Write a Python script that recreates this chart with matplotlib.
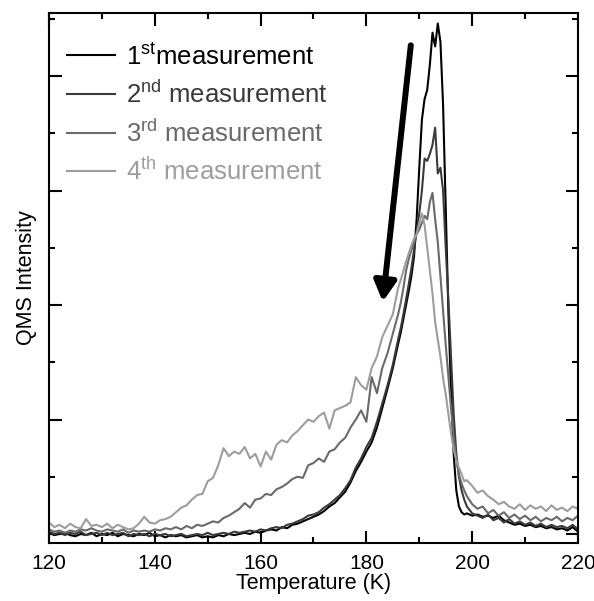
import numpy as np
import matplotlib
matplotlib.use("Agg")
from matplotlib import pyplot as plt
from matplotlib.ticker import MultipleLocator

plt.rcParams['font.family'] = ['Liberation Sans', 'DejaVu Sans']
plt.rcParams['mathtext.fontset'] = 'custom'
plt.rcParams['mathtext.rm'] = 'Liberation Sans'

# temperature grid (K): 1 K steps, 0.5 K steps around the peak
temps = np.concatenate([np.arange(120, 186, 1.0),
                        np.arange(186, 199.5, 0.5),
                        np.arange(200, 221, 1.0)])

# QMS intensity (arb. units)
meas_1 = [0.01, -0.01, 0.00, 0.01, -0.01, -0.02, 0.00, -0.01, 0.01, -0.02,
          0.00, -0.01, 0.01, -0.02, 0.00, -0.01, -0.02, 0.00, -0.01, 0.01,
          -0.02, -0.01, -0.03, -0.01, -0.02, -0.01, -0.03, -0.02, -0.01, -0.03,
          -0.02, -0.03, -0.01, -0.02, 0.00, -0.01, 0.00, 0.01, 0.00, 0.02,
          0.01, 0.03, 0.04, 0.03, 0.06, 0.05, 0.08, 0.09, 0.11, 0.13,
          0.15, 0.17, 0.20, 0.24, 0.27, 0.32, 0.37, 0.45, 0.55, 0.63,
          0.72, 0.80, 0.93, 1.10, 1.27, 1.45,
          1.66, 1.76, 1.88, 2.00, 2.12, 2.25, 2.42, 2.75, 3.20, 3.62,
          3.80, 3.88, 4.10, 4.38, 4.26, 4.46, 4.30, 3.75, 2.85, 1.95,
          1.25, 0.70, 0.38, 0.24, 0.19, 0.17, 0.18,
          0.16, 0.17, 0.15, 0.16, 0.14, 0.16, 0.12, 0.10, 0.08, 0.09,
          0.07, 0.08, 0.06, 0.07, 0.05, 0.06, 0.04, 0.05, 0.03, 0.06, 0.02]

meas_2 = [0.02, 0.00, 0.01, -0.01, 0.01, 0.00, 0.02, -0.01, 0.00, 0.01,
          -0.01, 0.01, -0.01, 0.00, 0.01, -0.02, 0.00, -0.01, 0.00, -0.02,
          0.00, -0.01, 0.00, -0.02, -0.01, 0.00, -0.02, -0.01, 0.00, -0.01,
          0.01, -0.01, 0.00, 0.01, 0.00, 0.02, 0.01, 0.02, 0.03, 0.02,
          0.04, 0.03, 0.05, 0.06, 0.05, 0.08, 0.09, 0.11, 0.13, 0.16,
          0.17, 0.19, 0.23, 0.26, 0.30, 0.34, 0.40, 0.47, 0.58, 0.66,
          0.76, 0.84, 0.98, 1.14, 1.30, 1.48,
          1.70, 1.80, 1.92, 2.05, 2.18, 2.32, 2.48, 2.65, 2.80, 3.00,
          3.28, 3.26, 3.32, 3.40, 3.55, 3.15, 3.20, 3.00, 2.50, 2.05,
          1.55, 1.05, 0.70, 0.50, 0.38, 0.30, 0.24,
          0.18, 0.16, 0.14, 0.17, 0.12, 0.14, 0.10, 0.13, 0.09, 0.11,
          0.08, 0.10, 0.07, 0.09, 0.06, 0.08, 0.06, 0.07, 0.05, 0.08, 0.04]

meas_3 = [0.04, 0.02, 0.03, 0.01, 0.03, 0.02, 0.04, 0.03, 0.05, 0.03,
          0.02, 0.04, 0.03, 0.02, 0.04, 0.01, 0.03, 0.02, 0.03, 0.02,
          0.04, 0.03, 0.05, 0.04, 0.06, 0.04, 0.07, 0.05, 0.08, 0.07,
          0.09, 0.11, 0.10, 0.14, 0.16, 0.19, 0.22, 0.27, 0.23, 0.30,
          0.31, 0.35, 0.34, 0.39, 0.41, 0.44, 0.48, 0.50, 0.49, 0.60,
          0.62, 0.66, 0.63, 0.72, 0.74, 0.80, 0.84, 0.93, 1.00, 1.08,
          0.98, 1.37, 1.23, 1.45, 1.58, 1.75,
          1.92, 2.02, 2.15, 2.30, 2.40, 2.48, 2.55, 2.62, 2.66, 2.72,
          2.78, 2.75, 2.90, 2.98, 2.75, 2.55, 2.25, 1.95, 1.65, 1.38,
          1.10, 0.85, 0.65, 0.52, 0.44, 0.38, 0.33,
          0.26, 0.22, 0.24, 0.18, 0.21, 0.16, 0.19, 0.14, 0.17, 0.13,
          0.16, 0.12, 0.15, 0.11, 0.14, 0.12, 0.15, 0.11, 0.14, 0.12, 0.16]

meas_4 = [0.10, 0.06, 0.08, 0.05, 0.09, 0.06, 0.05, 0.13, 0.07, 0.08,
          0.06, 0.09, 0.05, 0.08, 0.06, 0.04, 0.05, 0.09, 0.15, 0.10,
          0.09, 0.12, 0.13, 0.15, 0.19, 0.23, 0.25, 0.30, 0.34, 0.35,
          0.46, 0.49, 0.60, 0.75, 0.68, 0.72, 0.70, 0.76, 0.66, 0.70,
          0.59, 0.72, 0.65, 0.78, 0.82, 0.80, 0.86, 0.90, 0.95, 1.00,
          0.98, 1.03, 1.06, 0.92, 1.08, 1.10, 1.12, 1.15, 1.37, 1.30,
          1.26, 1.45, 1.55, 1.72, 1.82, 1.92,
          2.15, 2.22, 2.30, 2.38, 2.45, 2.52, 2.58, 2.62, 2.72, 2.80,
          2.70, 2.50, 2.30, 2.10, 1.85, 1.70, 1.55, 1.36, 1.22, 1.05,
          0.88, 0.74, 0.64, 0.58, 0.52, 0.46, 0.47,
          0.42, 0.36, 0.38, 0.33, 0.30, 0.26, 0.28, 0.24, 0.22, 0.26,
          0.21, 0.25, 0.22, 0.24, 0.20, 0.25, 0.21, 0.23, 0.20, 0.24, 0.22]

labels = [r"1$^{\mathrm{st}}$measurement", r"2$^{\mathrm{nd}}$ measurement",
          r"3$^{\mathrm{rd}}$ measurement", r"4$^{\mathrm{th}}$ measurement"]
colors = ["#000000", "#3a3a3a", "#6a6a6a", "#9d9d9d"]

fig = plt.figure(figsize=(5.94, 6.01), dpi=100)
ax = fig.add_axes([0.0825, 0.0965, 0.8905, 0.8815])

for vals, lab, col in zip([meas_1, meas_2, meas_3, meas_4], labels, colors):
    ax.plot(temps, vals, color=col, lw=1.5, label=lab)

# arrow showing the decrease with repeated measurement
ax.annotate("", xy=(183.1, 2.03), xytext=(188.4, 4.27),
            arrowprops=dict(arrowstyle="-|>,head_length=0.6,head_width=0.33",
                            lw=4.3, color="k", shrinkA=0, shrinkB=0,
                            mutation_scale=20))

ax.set_xlim(120, 220)
ax.set_ylim(-0.079, 4.55)
ax.xaxis.set_major_locator(MultipleLocator(20))
ax.xaxis.set_minor_locator(MultipleLocator(10))
ax.yaxis.set_major_locator(MultipleLocator(1))
ax.yaxis.set_minor_locator(MultipleLocator(0.5))
ax.tick_params(which="both", direction="in", top=True, right=True,
               labelleft=False, width=1.5, labelsize=15, pad=8)
ax.tick_params(which="major", length=9)
ax.tick_params(which="minor", length=4.5)
for sp in ax.spines.values():
    sp.set_linewidth(1.5)

ax.set_xlabel("Temperature (K)", fontsize=15.5, labelpad=0)
ax.set_ylabel("QMS Intensity", fontsize=15.5, labelpad=9)

leg = ax.legend(loc="upper left", frameon=False, fontsize=18.5,
                handlelength=1.85, handletextpad=0.45, labelspacing=0.42,
                borderaxespad=0.3, bbox_to_anchor=(0.0, 0.978))
for txt, col in zip(leg.get_texts(), colors):
    txt.set_color(col)

fig.savefig("out.png", dpi=100)
